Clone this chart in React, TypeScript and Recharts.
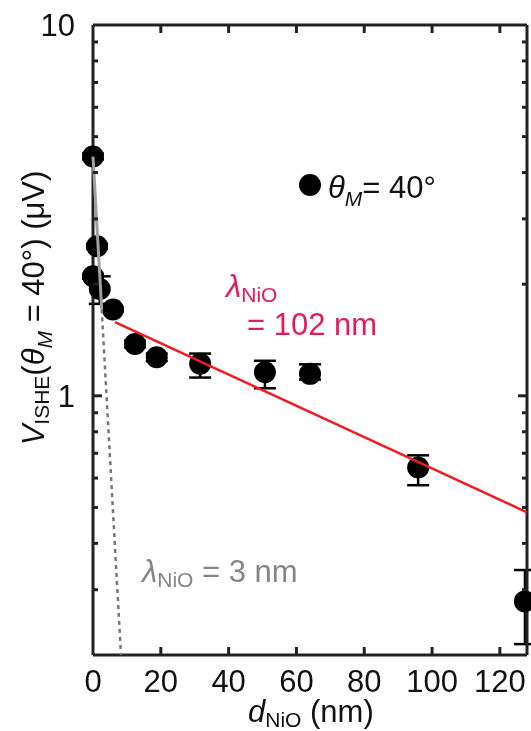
import React from "react";
import {
  ScatterChart,
  Scatter,
  XAxis,
  YAxis,
  ErrorBar,
} from "recharts";

// Measured data (d_NiO in nm, V_ISHE in µV)
const thickness = [0, 1.2, 0, 2.0, 5.9, 12.4, 18.8, 31.6, 50.7, 64, 95.9, 127.4];
const voltage = [4.42, 2.53, 2.1, 1.94, 1.71, 1.38, 1.27, 1.22, 1.158, 1.146, 0.641, 0.279];
const errLow = [0.08, 0.04, 0.03, 0.17, 0.02, 0.03, 0.03, 0.1, 0.11, 0.04, 0.067, 0.065];
const errHigh = [0.08, 0.04, 0.03, 0.16, 0.02, 0.03, 0.03, 0.08, 0.085, 0.07, 0.05, 0.06];

// Fit lines (end points)
const redFitX = [6.5, 128];
const redFitY = [1.58, 0.485];
const graySolidX = [0, 2.57];
const graySolidY = [4.42, 1.71];
const grayDashX = [2.57, 8.26];
const grayDashY = [1.71, 0.2];

const xTicks = [0, 20, 40, 60, 80, 100, 120];
const yTicks = [0.2, 0.3, 0.4, 0.5, 0.6, 0.7, 0.8, 0.9, 1, 2, 3, 4, 5, 6, 7, 8, 9, 10];
const yLabeled = [1, 10];

const points = thickness.map((x, i) => ({
  x,
  y: voltage[i],
  err: [errLow[i], errHigh[i]],
}));
const redFit = redFitX.map((x, i) => ({ x, y: redFitY[i] }));
const graySolid = graySolidX.map((x, i) => ({ x, y: graySolidY[i] }));
const grayDash = grayDashX.map((x, i) => ({ x, y: grayDashY[i] }));

const W = 523;
const H = 723;
const M = { top: 0, right: 0, bottom: 0, left: 0 };

const FONT = "'Liberation Sans', Arial, sans-serif";
const AX = "#222";
const RED_LINE = "#ee1c24";
const RED_TEXT = "#e8185a";
const GRAY_TEXT = "#858585";

// bottom axis: inward tick + label
const XTickBottom = (props: any) => {
  const { x, y, payload } = props;
  const v = payload.value;
  return (
    <g>
      {v !== 0 && <line x1={x} y1={y} x2={x} y2={y - 8} stroke={AX} strokeWidth={3} />}
      <text x={x} y={y + 37} textAnchor="middle" fontSize={31} fontFamily={FONT} fill="#111">
        {v}
      </text>
    </g>
  );
};

// top axis: inward tick only
const XTickTop = (props: any) => {
  const { x, y, payload } = props;
  const v = payload.value;
  if (v === 0) return <g />;
  return <line x1={x} y1={y} x2={x} y2={y + 8} stroke={AX} strokeWidth={3} />;
};

// left axis: inward tick + label for decades
const YTickLeft = (props: any) => {
  const { x, y, payload } = props;
  const v = payload.value;
  const major = yLabeled.includes(v);
  const len = major ? 9 : 5;
  const edge = v === 10 || v === 0.2;
  return (
    <g>
      {!edge && <line x1={x} y1={y} x2={x + len} y2={y} stroke={AX} strokeWidth={3} />}
      {major && (
        <text x={x - 18} y={y} dy="0.36em" textAnchor="end" fontSize={31} fontFamily={FONT} fill="#111">
          {v}
        </text>
      )}
    </g>
  );
};

// right axis: inward tick only
const YTickRight = (props: any) => {
  const { x, y, payload } = props;
  const v = payload.value;
  const major = yLabeled.includes(v);
  const len = major ? 9 : 5;
  const edge = v === 10 || v === 0.2;
  if (edge) return <g />;
  return <line x1={x} y1={y} x2={x - len} y2={y} stroke={AX} strokeWidth={3} />;
};

const Dot = (props: any) => {
  const { cx, cy } = props;
  if (cx == null || cy == null) return <g />;
  return <circle cx={cx} cy={cy} r={11} fill="#000" />;
};

const NoDot = () => <g />;

const axisLine = { stroke: AX, strokeWidth: 3 };

export default function App() {
  return (
    <div style={{ position: "fixed", left: 8, top: 8, width: W, height: H }}>
      <ScatterChart width={W} height={H} margin={M}>
        <XAxis
          xAxisId="b"
          dataKey="x"
          type="number"
          domain={[0, 128]}
          ticks={xTicks}
          interval={0}
          height={76}
          tickSize={0}
          tickMargin={0}
          tickLine={false}
          axisLine={axisLine}
          tick={<XTickBottom />}
        />
        <XAxis
          xAxisId="t"
          orientation="top"
          dataKey="x"
          type="number"
          domain={[0, 128]}
          ticks={xTicks}
          interval={0}
          height={17}
          tickSize={0}
          tickMargin={0}
          tickLine={false}
          axisLine={axisLine}
          tick={<XTickTop />}
        />
        <YAxis
          yAxisId="l"
          dataKey="y"
          type="number"
          scale="log"
          domain={[0.2, 10]}
          ticks={yTicks}
          interval={0}
          width={85}
          tickSize={0}
          tickMargin={0}
          tickLine={false}
          axisLine={axisLine}
          tick={<YTickLeft />}
        />
        <YAxis
          yAxisId="r"
          orientation="right"
          dataKey="y"
          type="number"
          scale="log"
          domain={[0.2, 10]}
          ticks={yTicks}
          interval={0}
          width={4}
          tickSize={0}
          tickMargin={0}
          tickLine={false}
          axisLine={axisLine}
          tick={<YTickRight />}
        />
        {/* hidden series binding the top/right frame axes */}
        <Scatter
          xAxisId="t"
          yAxisId="r"
          data={points}
          shape={<NoDot />}
          isAnimationActive={false}
        />
        <Scatter xAxisId="b" yAxisId="l" data={points} shape={<Dot />} isAnimationActive={false}>
          <ErrorBar
            dataKey="err"
            direction="y"
            width={11}
            stroke="#000"
            strokeWidth={2.5}
            isAnimationActive={false}
          />
        </Scatter>
        <Scatter
          xAxisId="b"
          yAxisId="l"
          data={redFit}
          shape={<NoDot />}
          line={{ stroke: RED_LINE, strokeWidth: 2.5 }}
          isAnimationActive={false}
        />
        <Scatter
          xAxisId="b"
          yAxisId="l"
          data={graySolid}
          shape={<NoDot />}
          line={{ stroke: "#a0a0a0", strokeWidth: 3 }}
          isAnimationActive={false}
        />
        <Scatter
          xAxisId="b"
          yAxisId="l"
          data={grayDash}
          shape={<NoDot />}
          line={{ stroke: "#777", strokeWidth: 2.5, strokeDasharray: "4 4" }}
          isAnimationActive={false}
        />

        {/* legend */}
        <circle cx={302} cy={177} r={11} fill="#000" />
        <text x={320} y={190} fontSize={31} fontFamily={FONT} fill="#111">
          <tspan fontStyle="italic">θ</tspan>
          <tspan fontStyle="italic" fontSize={21} dy={8}>M</tspan>
          <tspan dy={-8}>= 40°</tspan>
        </text>

        {/* red annotation */}
        <text x={218} y={289} fontSize={31} fontFamily={FONT} fill={RED_TEXT}>
          <tspan fontStyle="italic">λ</tspan>
          <tspan fontSize={21} dy={5}>NiO</tspan>
        </text>
        <text x={239} y={327} fontSize={31} fontFamily={FONT} fill={RED_TEXT}>
          = 102 nm
        </text>

        {/* gray annotation */}
        <text x={134} y={574} fontSize={31} fontFamily={FONT} fill={GRAY_TEXT}>
          <tspan fontStyle="italic">λ</tspan>
          <tspan fontSize={21} dy={5}>NiO</tspan>
          <tspan dy={-5}> = 3 nm</tspan>
        </text>

        {/* x title */}
        <text x={240} y={714} fontSize={31} fontFamily={FONT} fill="#111">
          <tspan fontStyle="italic">d</tspan>
          <tspan fontSize={21} dy={5}>NiO</tspan>
          <tspan dy={-5}> (nm)</tspan>
        </text>

        {/* y title */}
        <text
          x={36}
          y={300}
          transform="rotate(-90, 36, 300)"
          textAnchor="middle"
          fontSize={31}
          fontFamily={FONT}
          fill="#111"
        >
          <tspan fontStyle="italic">V</tspan>
          <tspan fontSize={21} dy={5}>ISHE</tspan>
          <tspan dy={-5}>(</tspan>
          <tspan fontStyle="italic">θ</tspan>
          <tspan fontStyle="italic" fontSize={21} dy={8}>M</tspan>
          <tspan dy={-8}> = 40°) (μV)</tspan>
        </text>
      </ScatterChart>
    </div>
  );
}
